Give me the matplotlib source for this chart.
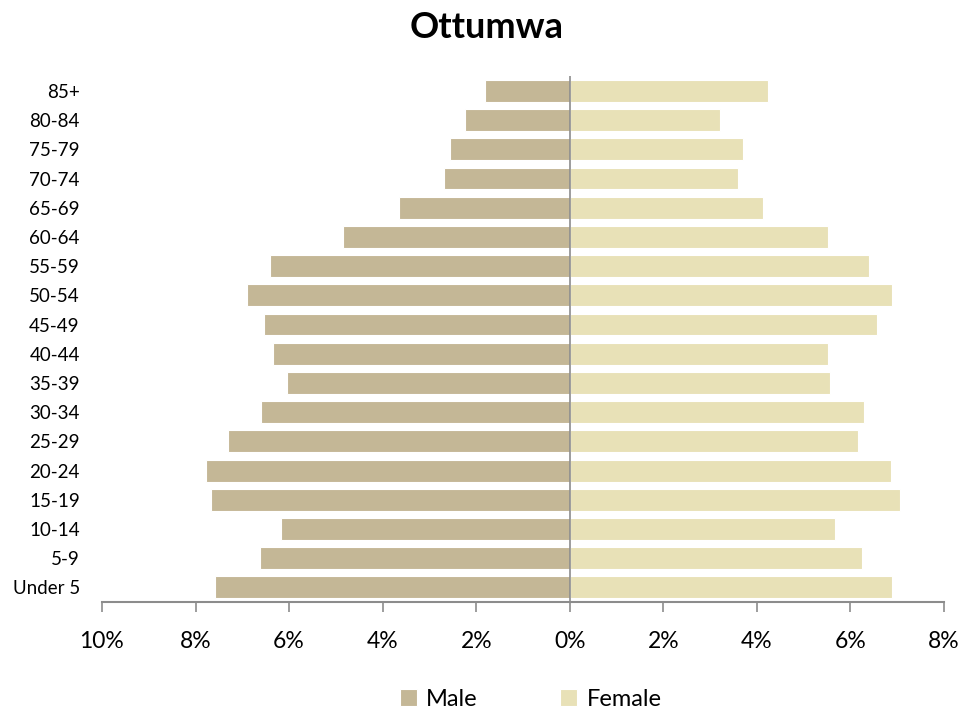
import numpy as np
import matplotlib.pyplot as plt
from matplotlib.ticker import FuncFormatter

# Datos (porcentaje de la poblacion)
grupos = ['Under 5', '5-9', '10-14', '15-19', '20-24', '25-29', '30-34', '35-39',
          '40-44', '45-49', '50-54', '55-59', '60-64', '65-69', '70-74', '75-79',
          '80-84', '85+']
hombres = [7.59, 6.62, 6.17, 7.67, 7.78, 7.31, 6.60, 6.05, 6.35, 6.54, 6.90, 6.41,
           4.84, 3.64, 2.68, 2.55, 2.23, 1.82]
mujeres = [6.88, 6.24, 5.66, 7.05, 6.86, 6.17, 6.30, 5.57, 5.53, 6.56, 6.88, 6.39,
           5.51, 4.14, 3.60, 3.71, 3.22, 4.24]

plt.rcParams['font.family'] = ['Lato', 'DejaVu Sans']

fig = plt.figure(figsize=(9.74, 7.13), dpi=100)
ax = fig.add_axes([0.1047, 0.1557, 0.8645, 0.7373])

y = np.arange(len(grupos))
ax.barh(y, [-v for v in hombres], height=0.75, color='#C4B796', edgecolor='white',
        linewidth=0.8, label='Male')
ax.barh(y, mujeres, height=0.75, color='#E8E1B7', edgecolor='white',
        linewidth=0.8, label='Female')

ax.axvline(0, color='#8C8C8C', linewidth=1.2)

ax.set_xlim(-10, 8)
ax.set_ylim(-0.5, len(grupos) - 0.5)
ax.set_xticks(np.arange(-10, 9, 2))
ax.xaxis.set_major_formatter(FuncFormatter(lambda v, p: '%d%%' % abs(v)))
ax.set_yticks(y)
ax.set_yticklabels(grupos)

for s in ['top', 'right', 'left']:
    ax.spines[s].set_visible(False)
ax.spines['bottom'].set_color('#8C8C8C')
ax.spines['bottom'].set_linewidth(1.5)
ax.tick_params(axis='x', length=7, width=1.2, color='#8C8C8C', labelsize=16.5, pad=14)
ax.tick_params(axis='y', length=0, labelsize=13.5, pad=16)

fig.suptitle('Ottumwa', fontsize=26, fontweight='bold', y=0.985)

fig.legend(loc='lower center', ncol=2, frameon=False, fontsize=17,
           bbox_to_anchor=(0.545, -0.025), handlelength=0.7, handleheight=0.7,
           columnspacing=3.5, handletextpad=0.4)

fig.savefig('out.png', dpi=100)
